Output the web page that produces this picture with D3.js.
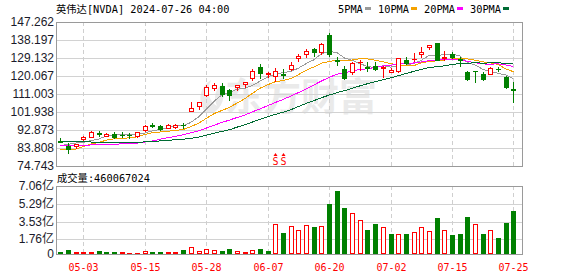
<!DOCTYPE html>
<html><head><meta charset="utf-8">
<script src="https://cdn.jsdelivr.net/npm/d3@7"></script>
<style>
html,body{margin:0;padding:0;background:#fff;}
svg{display:block;}
</style></head><body>
<svg id="c" width="578" height="276"></svg>
<script>
const title = "英伟达[NVDA] 2024-07-26 04:00";
const volTitle = "成交量:460067024";
const dates = ["04-30","05-01","05-02","05-03","05-06","05-07","05-08","05-09","05-10","05-13",
  "05-14","05-15","05-16","05-17","05-20","05-21","05-22","05-23","05-24","05-28",
  "05-29","05-30","05-31","06-03","06-04","06-05","06-06","06-07","06-10","06-11",
  "06-12","06-13","06-14","06-17","06-18","06-20","06-21","06-24","06-25","06-26",
  "06-27","06-28","07-01","07-02","07-03","07-05","07-08","07-09","07-10","07-11",
  "07-12","07-15","07-16","07-17","07-18","07-19","07-22","07-23","07-24","07-25"];
const opens = [87.3,84.9,84.6,88.2,89.5,91.4,90.1,90.9,90.5,90.6,
  89.8,92.9,95.3,94.9,94.1,94.3,95.5,102.5,105.1,110.7,
  113.9,115.0,112.8,114.3,115.9,118.9,124.4,121.0,120.2,121.0,
  123.6,129.3,131.0,133.8,132.0,140.5,128.0,123.6,122.3,127.0,
  124.5,124.9,124.3,122.1,122.8,128.3,128.5,131.3,134.8,136.5,
  129.2,131.0,128.5,122.1,122.6,121.1,121.3,123.8,119.7,113.6];
const highs = [88.8,86.1,86.0,90.1,92.3,92.6,91.5,91.8,91.9,91.4,
  92.1,95.4,96.3,95.2,95.8,96.0,96.3,106.8,107.0,115.5,
  116.7,116.7,113.5,115.5,117.2,123.4,126.1,122.2,123.9,123.4,
  126.9,131.0,133.7,134.3,136.5,141.8,129.5,124.9,127.3,128.3,
  126.9,127.3,125.1,123.9,129.1,129.6,131.5,134.7,135.7,136.9,
  132.7,132.0,129.8,122.6,122.8,121.9,124.4,124.8,120.1,117.2];
const lows = [86.9,81.5,83.6,87.6,89.1,89.6,89.8,88.6,89.5,88.9,
  89.4,92.4,94.2,92.9,93.8,93.9,93.8,102.2,103.7,110.2,
  113.0,110.2,107.8,113.0,114.7,118.1,119.2,119.4,117.5,119.2,
  123.3,127.6,129.6,130.1,131.0,130.0,125.6,118.6,121.1,122.9,
  122.8,122.9,119.7,122.1,122.3,126.0,127.6,129.8,133.7,128.0,
  128.3,129.0,125.3,118.1,117.2,118.1,120.9,122.7,113.8,107.0];
const closes = [87.0,83.3,85.8,89.5,92.0,91.0,90.8,89.3,90.2,90.4,
  91.7,95.1,95.0,93.3,95.4,95.6,95.2,104.2,106.8,114.7,
  115.5,110.8,110.5,115.4,116.9,122.8,121.6,121.4,122.4,120.7,
  125.4,130.1,132.8,132.0,136.2,131.0,127.6,118.9,126.4,127.3,
  124.3,123.8,124.6,122.9,129.0,126.8,128.6,132.3,135.7,128.3,
  129.6,129.4,128.3,118.6,122.4,118.6,123.9,123.5,114.4,113.2];
// volume in 亿 shares
const volumes = [0.49,0.69,0.46,0.46,0.46,0.59,0.49,0.49,0.46,0.39,
  0.39,0.56,0.49,0.49,0.46,0.46,0.69,0.96,0.56,0.76,
  0.66,0.59,0.79,0.56,0.46,0.66,0.79,0.59,3.26,2.39,
  3.06,2.66,3.16,2.99,3.09,5.29,6.59,4.89,4.36,3.66,
  2.69,3.29,2.99,2.29,2.26,2.29,2.46,2.99,2.56,3.89,
  2.66,2.19,2.29,3.99,3.26,2.29,2.66,1.89,3.39,4.60];
// closes of the 29 sessions before 04-30 (needed for the moving averages)
const priorCloses = [89.35,90.37,91.44,94.29,95.00,92.56,90.25,90.36,90.36,89.44,
  88.96,85.91,88.00,87.10,85.34,87.04,90.62,88.12,86.06,87.42,
  84.04,84.67,76.20,79.52,82.44,79.68,82.63,87.74,87.76];
const priceTicks = [74.743,83.808,92.873,101.938,111.003,120.067,129.132,138.197,147.262];
const volTicks = [0,1.76,3.53,5.29,7.06];
const volTickLabels = ["0","1.76亿","3.53亿","5.29亿","7.06亿"];
const dateTicks = ["05-03","05-15","05-28","06-07","06-20","07-02","07-15","07-25"];
const maPeriods = [5,10,20,30];
const maLabels = ["5PMA","10PMA","20PMA","30PMA"];
const maColors = ["#9a9a9a","#f5a200","#ff00ff","#006b33"];
const splitMarks = ["06-10","06-11"];

const RED = "#ff0000", GREEN = "#008000";
const monoFont = "'DejaVu Sans Mono','Noto Sans CJK SC',monospace";
const sansFont = "'Liberation Sans',Arial,'Noto Sans CJK SC',sans-serif";

const svg = d3.select("#c");
const L = 56, R = 522, PT = 22, PB = 166, VT = 186, VB = 254;

const x = d3.scalePoint().domain(dates).range([60.3, 513.4]);
const y = d3.scaleLinear().domain([priceTicks[0], priceTicks[priceTicks.length-1]]).range([PB, PT]);
const yv = d3.scaleLinear().domain([0, 7.06]).range([256.9, 186.3]);
const px = d => Math.round(x(d));
const py = v => Math.round(y(v));

const rows = dates.map((d,i) => ({d, i, o:opens[i], h:highs[i], l:lows[i], c:closes[i], v:volumes[i],
  prev: i === 0 ? priorCloses[priorCloses.length-1] : closes[i-1]}));

// watermark
const wm = svg.append("g").attr("fill","#eaeaea");
wm.append("path").attr("d","M206,113 C197,102 199,88 211,80 C206,92 209,101 217,106 C213,97 215,89 223,84 C226,97 222,108 213,113 Z");
wm.append("text").attr("x",225).attr("y",110).attr("font-family","'Noto Sans CJK SC'").attr("font-weight",700)
  .attr("font-size",38).text("东方财富");

// grids
const grid = svg.append("g");
grid.selectAll(".hg").data(priceTicks.slice(1,-1)).join("line")
  .attr("x1",L).attr("x2",R).attr("y1",d=>py(d)+0.5).attr("y2",d=>py(d)+0.5)
  .attr("stroke","#d2d2d2");
grid.selectAll(".vhg").data(volTicks.slice(1,-1)).join("line").attr("class","vhg")
  .attr("x1",L).attr("x2",R).attr("y1",d=>Math.round(yv(d))+0.5).attr("y2",d=>Math.round(yv(d))+0.5)
  .attr("stroke","#d2d2d2");
[[PT,PB],[VT,VB]].forEach(([a,b]) => {
  grid.append("g").selectAll("line").data(dateTicks).join("line")
    .attr("x1",d=>px(d)+0.5).attr("x2",d=>px(d)+0.5).attr("y1",a).attr("y2",b)
    .attr("stroke","#cfcfcf").attr("stroke-dasharray","4,3");
});

// moving averages
const all = priorCloses.concat(closes);
const off = priorCloses.length;
const maG = svg.append("g");
maPeriods.forEach((p,k) => {
  const vals = rows.map(r => ({d:r.d, v:d3.mean(all.slice(off + r.i - p + 1, off + r.i + 1))}));
  maG.append("path").datum(vals)
    .attr("d", d3.line().x(r=>x(r.d)).y(r=>y(r.v)))
    .attr("fill","none").attr("stroke",maColors[k]).attr("stroke-width",1)
    .attr("shape-rendering","crispEdges");
});

// candles
const cg = svg.append("g").attr("shape-rendering","crispEdges");
rows.forEach(r => {
  const cx = px(r.d) + 0.5;
  const up = r.c >= r.o;
  const col = up ? RED : GREEN;
  const top = py(Math.max(r.o,r.c)), bot = py(Math.min(r.o,r.c));
  const hi = py(r.h), lo = py(r.l);
  if (bot - top < 1) {
    cg.append("line").attr("x1",cx).attr("x2",cx).attr("y1",hi).attr("y2",lo+1).attr("stroke",col);
    cg.append("line").attr("x1",cx-2.5).attr("x2",cx+2.5).attr("y1",top+0.5).attr("y2",top+0.5).attr("stroke",col);
  } else if (up) {
    cg.append("line").attr("x1",cx).attr("x2",cx).attr("y1",hi).attr("y2",top).attr("stroke",col);
    cg.append("line").attr("x1",cx).attr("x2",cx).attr("y1",bot).attr("y2",lo+1).attr("stroke",col);
    cg.append("rect").attr("x",cx-2).attr("y",top+0.5).attr("width",4).attr("height",bot-top)
      .attr("fill","#fff").attr("stroke",col);
  } else {
    cg.append("line").attr("x1",cx).attr("x2",cx).attr("y1",hi).attr("y2",lo+1).attr("stroke",col);
    cg.append("rect").attr("x",cx-2.5).attr("y",top).attr("width",5).attr("height",bot-top+1).attr("fill",col);
  }
});

// volume bars
const vg = svg.append("g").attr("shape-rendering","crispEdges");
rows.forEach(r => {
  const cx = px(r.d) + 0.5;
  const up = r.c >= r.prev;
  const t = Math.round(yv(r.v));
  if (up) {
    vg.append("rect").attr("x",cx-2).attr("y",t+0.5).attr("width",4).attr("height",Math.max(VB-1-t-0.5,0.5))
      .attr("fill","#fff").attr("stroke",RED);
  } else {
    vg.append("rect").attr("x",cx-2.5).attr("y",t).attr("width",5).attr("height",VB-t).attr("fill",GREEN);
  }
});

// borders
const bg = svg.append("g").attr("fill","none").attr("stroke","#9a9a9a").attr("shape-rendering","crispEdges");
bg.append("rect").attr("x",L+0.5).attr("y",PT+0.5).attr("width",R-L).attr("height",PB-PT);
bg.append("rect").attr("x",L+0.5).attr("y",VT+0.5).attr("width",R-L).attr("height",VB-VT);

// split markers
const sg = svg.append("g").attr("fill",RED);
splitMarks.forEach(d => {
  const cx = px(d) + 0.5;
  sg.append("path").attr("d",`M${cx-2},156 L${cx},153 L${cx+2},156 Z`);
  sg.append("text").attr("x",cx).attr("y",164.5).attr("text-anchor","middle")
    .attr("font-family",monoFont).attr("font-size",10).text("S");
});

// price axis labels
svg.append("g").selectAll("text").data(priceTicks).join("text")
  .attr("x",54).attr("y",d=>py(d)+3.5).attr("text-anchor","end")
  .attr("font-family",sansFont).attr("font-size",12).attr("fill","#1a1a2a")
  .text(d=>d.toFixed(3));
// volume axis labels
svg.append("g").selectAll("text").data(volTicks).join("text")
  .attr("x",54).attr("y",d=>Math.min(Math.round(yv(d)),VB)+3.5).attr("text-anchor","end")
  .attr("font-family",sansFont).attr("font-size",12).attr("fill","#1a1a2a")
  .text((d,i)=>volTickLabels[i]);
// date labels
svg.append("g").selectAll("text").data(dateTicks).join("text")
  .attr("x",d=>px(d)+0.5).attr("y",270.5).attr("text-anchor","middle")
  .attr("font-family",monoFont).attr("font-size",10).attr("fill",RED)
  .text(d=>d);

// titles
svg.append("text").attr("x",56).attr("y",12.5).attr("font-family",monoFont).attr("font-size",10.3)
  .attr("fill","#000").text(title);
svg.append("text").attr("x",57).attr("y",181.5).attr("font-family",monoFont).attr("font-size",10.3)
  .attr("fill","#000").text(volTitle);

// legend
const lg = svg.append("g");
let lx = 338;
maLabels.forEach((lab,k) => {
  const t = lg.append("text").attr("x",lx).attr("y",12.5).attr("font-family",monoFont).attr("font-size",10.3)
    .attr("fill","#000").text(lab);
  const w = t.node().getComputedTextLength();
  lg.append("rect").attr("x",Math.round(lx+w+2)).attr("y",7).attr("width",6).attr("height",3).attr("fill",maColors[k]);
  lx = Math.round(lx + w + 2) + 6 + 7;
});
</script>
</body></html>
